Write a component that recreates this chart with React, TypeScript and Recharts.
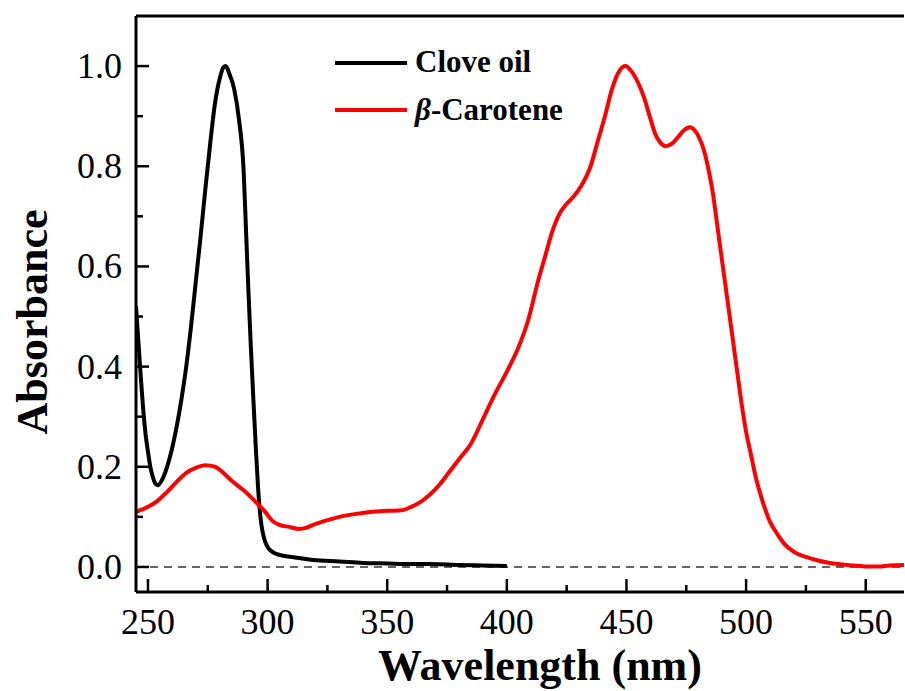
import React from "react";
import { LineChart, Line, XAxis, YAxis, ReferenceLine, Legend } from "recharts";

// Clove oil spectrum
const cloveWavelength = [
  245, 246, 247, 248, 249, 250, 251, 252, 253, 254, 256, 258, 260, 262, 264, 266, 268, 270, 272, 274, 276, 278, 280,
  281.5, 282.5, 284, 286, 288, 290, 291, 292, 293, 294, 295, 296, 297, 298, 299, 300, 302, 305, 310, 319, 330, 340,
  350, 360, 368, 380, 390, 400,
];
const cloveAbs = [
  0.52, 0.45, 0.38, 0.315, 0.265, 0.23, 0.2, 0.18, 0.167, 0.163, 0.175, 0.2, 0.235, 0.28, 0.335, 0.4, 0.48, 0.57,
  0.66, 0.755, 0.845, 0.925, 0.975, 0.997, 1.0, 0.985, 0.955, 0.895, 0.79, 0.67, 0.55, 0.44, 0.34, 0.245, 0.16, 0.1,
  0.068, 0.05, 0.04, 0.03, 0.024, 0.02, 0.014, 0.011, 0.008, 0.007, 0.006, 0.006, 0.004, 0.003, 0.002,
];

// beta-carotene spectrum
const caroteneWavelength = [
  245, 250, 254, 258, 262, 266, 270, 274, 278, 281, 285, 290, 295, 299, 302, 305, 309, 313, 316, 319, 324, 330, 337,
  344, 350, 356, 360, 364, 368, 372, 376, 380, 385, 390, 395, 400, 405, 409, 413, 416, 419, 422, 425, 428, 431, 435,
  438, 441, 444, 447, 449.6, 452, 454, 457.5, 460, 462, 464, 466.5, 469, 471.5, 474, 476.5, 478.5, 480.5, 482.5, 484,
  486, 488, 490, 492, 494, 496, 498, 500, 502, 504, 506, 508, 510, 513, 516, 520, 525, 530, 535, 540, 545, 550, 555,
  560, 566,
];
const caroteneAbs = [
  0.11, 0.12, 0.132, 0.15, 0.17, 0.188, 0.198, 0.203, 0.2, 0.19, 0.172, 0.153, 0.13, 0.11, 0.092, 0.084, 0.08, 0.076,
  0.078, 0.084, 0.092, 0.1, 0.106, 0.11, 0.112, 0.113, 0.12, 0.13, 0.145, 0.165, 0.19, 0.215, 0.246, 0.295, 0.345,
  0.39, 0.44, 0.494, 0.57, 0.62, 0.67, 0.705, 0.725, 0.74, 0.76, 0.8, 0.85, 0.9, 0.955, 0.99, 1.0, 0.99, 0.975, 0.935,
  0.895, 0.865, 0.848, 0.84, 0.845, 0.858, 0.872, 0.878, 0.872, 0.856, 0.83, 0.8, 0.75, 0.68, 0.61, 0.54, 0.47, 0.4,
  0.33, 0.27, 0.225, 0.18, 0.145, 0.115, 0.09, 0.066, 0.046, 0.03, 0.02, 0.013, 0.008, 0.005, 0.003, 0.001, 0.001,
  0.003, 0.004,
];

const xTicks = [250, 275, 300, 325, 350, 375, 400, 425, 450, 475, 500, 525, 550];
const yTicks = [0, 0.1, 0.2, 0.3, 0.4, 0.5, 0.6, 0.7, 0.8, 0.9, 1.0];

const cloveData = cloveWavelength.map((w, i) => ({ w, a: cloveAbs[i] }));
const caroteneData = caroteneWavelength.map((w, i) => ({ w, a: caroteneAbs[i] }));

const FONT = '"Liberation Serif", "Times New Roman", serif';

function XTick(props: any) {
  const { x, y, payload } = props;
  const major = payload.value % 50 === 0;
  return (
    <g>
      <line x1={x} x2={x} y1={y} y2={y - (major ? 13 : 7)} stroke="#000" strokeWidth={2.5} />
      {major && (
        <text x={x} y={y + 42} textAnchor="middle" fontSize={36} fontFamily={FONT} fill="#000">
          {payload.value}
        </text>
      )}
    </g>
  );
}

function YTick(props: any) {
  const { x, y, payload } = props;
  const major = Math.round(payload.value * 10) % 2 === 0;
  return (
    <g>
      <line x1={x} x2={x + (major ? 13 : 7)} y1={y} y2={y} stroke="#000" strokeWidth={2.5} />
      {major && (
        <text x={x - 14} y={y + 12} textAnchor="end" fontSize={36} fontFamily={FONT} fill="#000">
          {payload.value.toFixed(1)}
        </text>
      )}
    </g>
  );
}

function LegendBox() {
  return (
    <svg width={300} height={95}>
      <line x1={5} x2={77} y1={23} y2={23} stroke="#000" strokeWidth={4} />
      <text x={85} y={32} fontSize={31} fontWeight="bold" fontFamily={FONT} fill="#000">
        Clove oil
      </text>
      <line x1={5} x2={77} y1={70} y2={70} stroke="#ff0000" strokeWidth={4} />
      <text x={85} y={80} fontSize={31} fontWeight="bold" fontFamily={FONT} fill="#000">
        <tspan fontStyle="italic">β</tspan>-Carotene
      </text>
    </svg>
  );
}

export default function App() {
  return (
    <div style={{ position: "absolute", left: 0, top: 0, width: 905, height: 691, background: "#fff" }}>
      <LineChart width={905} height={691} margin={{ top: 16, right: 1, bottom: 0, left: 0 }}>
        <XAxis
          dataKey="w"
          type="number"
          domain={[245, 566]}
          allowDataOverflow
          ticks={xTicks}
          interval={0}
          height={99}
          tickSize={0}
          tickMargin={0}
          tickLine={false}
          axisLine={{ stroke: "#000", strokeWidth: 3 }}
          tick={<XTick />}
          label={{
            content: () => (
              <text x={540} y={680} textAnchor="middle" fontSize={44} fontWeight="bold" fontFamily={FONT} fill="#000">
                Wavelength (nm)
              </text>
            ),
          }}
        />
        <YAxis
          type="number"
          domain={[-0.05, 1.1]}
          allowDataOverflow
          ticks={yTicks}
          interval={0}
          width={136}
          tickSize={0}
          tickMargin={0}
          tickLine={false}
          axisLine={{ stroke: "#000", strokeWidth: 3 }}
          tick={<YTick />}
          label={{
            content: () => (
              <text
                x={47}
                y={322}
                transform="rotate(-90, 47, 322)"
                textAnchor="middle"
                fontSize={44}
                fontWeight="bold"
                fontFamily={FONT}
                fill="#000"
              >
                Absorbance
              </text>
            ),
          }}
        />
        <ReferenceLine y={1.1} stroke="#000" strokeWidth={3} />
        <ReferenceLine y={0} stroke="#333" strokeWidth={1.5} strokeDasharray="8 6" />
        <Line
          data={cloveData}
          dataKey="a"
          type="monotone"
          stroke="#000"
          strokeWidth={4}
          dot={false}
          isAnimationActive={false}
        />
        <Line
          data={caroteneData}
          dataKey="a"
          type="monotone"
          stroke="#ff0000"
          strokeWidth={4}
          dot={false}
          isAnimationActive={false}
        />
        <Legend
          layout="vertical"
          align="center"
          verticalAlign="middle"
          wrapperStyle={{ top: 40, left: 330, width: 300, height: 95 }}
          content={() => <LegendBox />}
        />
      </LineChart>
    </div>
  );
}
